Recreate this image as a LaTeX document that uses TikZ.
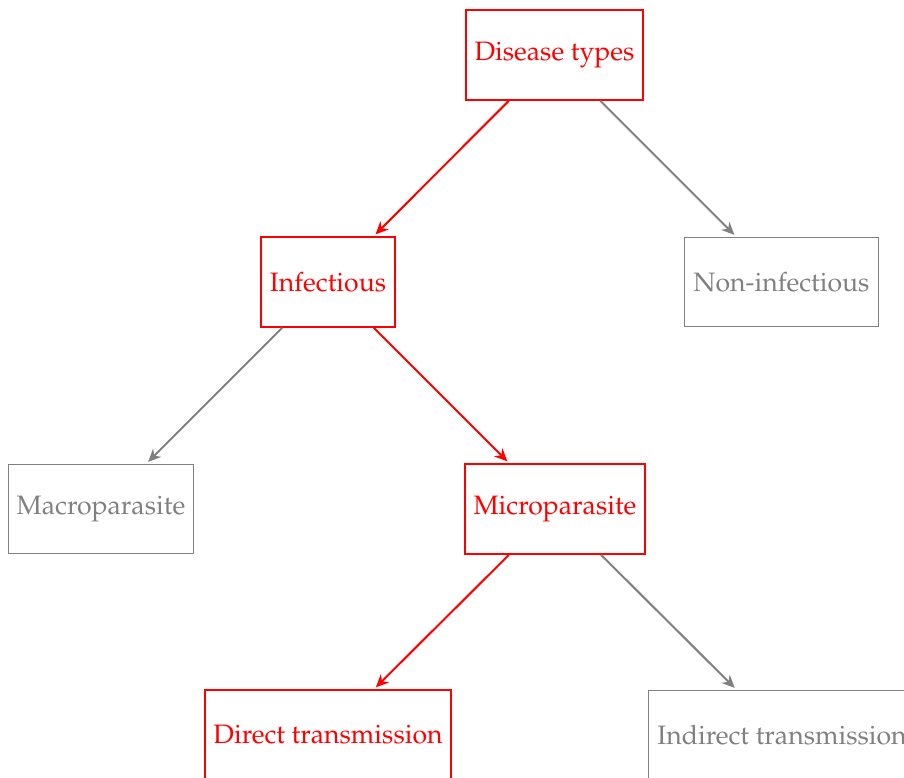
\documentclass[tikz,border=0pt]{standalone}
\usepackage[T1]{fontenc}
\usepackage{mathpazo}
\usetikzlibrary{arrows.meta}
\begin{document}
\begin{tikzpicture}[x=0.390625pt,y=-0.390625pt,
  box/.style={draw, rectangle, minimum height=35pt, inner sep=3.4pt, font=\fontsize{10.4}{12.5}\selectfont},
  hot/.style={box, red, line width=0.8pt},
  cold/.style={box, gray, line width=0.4pt},
  hotarrow/.style={red, line width=0.8pt, -{Stealth[length=5pt,width=4.5pt,inset=1.6pt]}, shorten >=1pt},
  coldarrow/.style={gray, line width=0.8pt, -{Stealth[length=5pt,width=4.5pt,inset=1.6pt]}, shorten >=1pt}]
\useasboundingbox (0,0) rectangle (904,778);
\node[hot]  (dis)  at (554.5,55) {Disease types};
\node[hot]  (inf)  at (328,282) {Infectious};
\node[cold] (non)  at (781.5,282) {Non-infectious};
\node[cold] (mac)  at (101,509) {Macroparasite};
\node[hot]  (mic)  at (555,509) {Microparasite};
\node[hot]  (dir)  at (328,735) {Direct transmission};
\node[cold] (ind)  at (782,735) {Indirect transmission};
\draw[hotarrow]  (dis) -- (inf);
\draw[coldarrow] (dis) -- (non);
\draw[coldarrow] (inf) -- (mac);
\draw[hotarrow]  (inf) -- (mic);
\draw[hotarrow]  (mic) -- (dir);
\draw[coldarrow] (mic) -- (ind);
\end{tikzpicture}
\end{document}
